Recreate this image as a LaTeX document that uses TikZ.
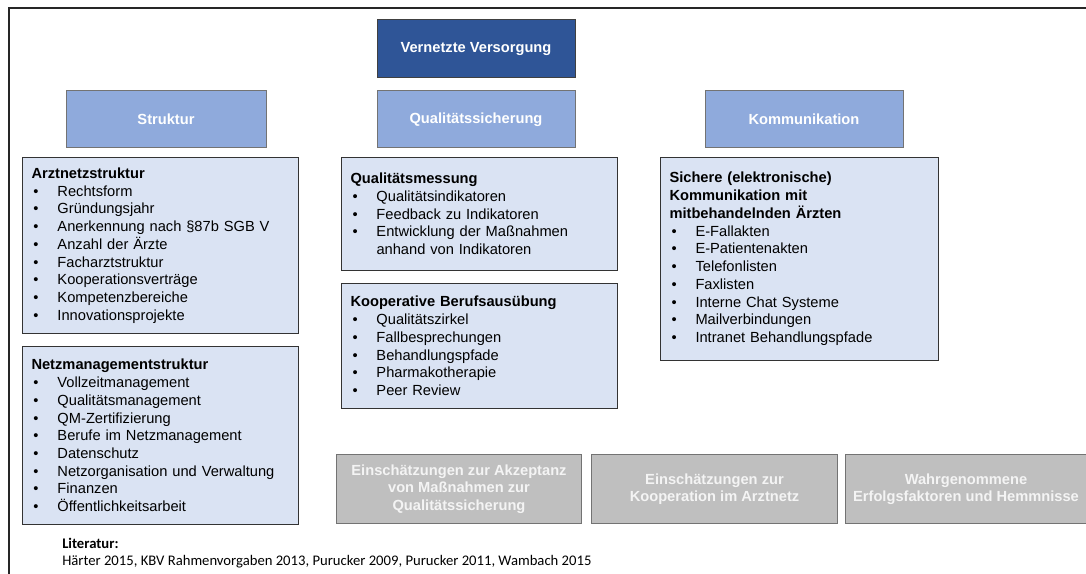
\documentclass[tikz,border=0pt]{standalone}
\usepackage{fontspec}
\setmainfont{Liberation Sans}
\newfontfamily\litfont{Carlito}
\usepackage{tikz}
\usetikzlibrary{positioning}

\definecolor{vvblue}{HTML}{2F5597}
\definecolor{headblue}{HTML}{8FAADC}
\definecolor{listblue}{HTML}{DAE3F3}
\definecolor{boxgrey}{HTML}{BFBFBF}
\definecolor{textgrey}{HTML}{F4F4F4}

\newcommand{\itm}[1]{\\\makebox[19.5pt][l]{\hspace{1.5pt}\textbullet}#1}
\newcommand{\cont}[1]{\\\hspace*{19.5pt}#1}

\tikzset{
  topbox/.style={draw=black!75, line width=0.75pt, fill=vvblue, text=white,
    font=\fontsize{11}{13.3}\selectfont\bfseries,
    minimum width=148.5pt, minimum height=43.5pt},
  headbox/.style={draw=black!55, line width=0.75pt, fill=headblue, text=white,
    font=\fontsize{11}{13.3}\selectfont\bfseries, minimum height=42.75pt},
  listbox/.style={draw=black!80, line width=0.75pt, fill=listblue,
    font=\fontsize{11}{13.3}\selectfont, align=left, inner xsep=6.75pt,
    text width=193.5pt, minimum width=207pt, anchor=north west},
  greybox/.style={draw=black!55, line width=0.75pt, fill=boxgrey, text=textgrey,
    font=\fontsize{11}{13.1}\selectfont\bfseries, align=center,
    minimum height=51.75pt, anchor=north west}
}

\begin{document}
\begin{tikzpicture}[x=0.75pt, y=-0.75pt]
\useasboundingbox (0,0) rectangle (1086,574);
% frame, open to the right and below
\draw[line width=1.5pt, black!85] (1100,8) -| (9,590);

% top of the tree
\node[topbox] (vv) at (476,49) {Vernetzte Versorgung};
\node[headbox, minimum width=148.5pt, below=9pt of vv] (qs) {Qualitätssicherung};
\node[headbox, minimum width=150pt, left=82.5pt of qs] (struk) {Struktur};
\node[headbox, minimum width=148.5pt, right=96.75pt of qs] (komm) {Kommunikation};

% left column
\node[listbox, minimum height=132pt] (arzt) at (22,157)
  {\textbf{Arztnetzstruktur}
   \itm{Rechtsform}
   \itm{Gründungsjahr}
   \itm{Anerkennung nach §87b SGB V}
   \itm{Anzahl der Ärzte}
   \itm{Facharztstruktur}
   \itm{Kooperationsverträge}
   \itm{Kompetenzbereiche}
   \itm{Innovationsprojekte}};
\node[listbox, minimum height=133.5pt, below=9pt of arzt.south west, anchor=north west] (netz)
  {\textbf{Netzmanagementstruktur}
   \itm{Vollzeitmanagement}
   \itm{Qualitätsmanagement}
   \itm{QM-Zertifizierung}
   \itm{Berufe im Netzmanagement}
   \itm{Datenschutz}
   \itm{Netzorganisation und Verwaltung}
   \itm{Finanzen}
   \itm{Öffentlichkeitsarbeit}};

% middle column
\node[listbox, minimum height=84.75pt] (qm) at (341,157)
  {\textbf{Qualitätsmessung}
   \itm{Qualitätsindikatoren}
   \itm{Feedback zu Indikatoren}
   \itm{Entwicklung der Maßnahmen}
   \cont{anhand von Indikatoren}};
\node[listbox, minimum height=93.75pt, below=9pt of qm.south west, anchor=north west] (koop)
  {\textbf{Kooperative Berufsausübung}
   \itm{Qualitätszirkel}
   \itm{Fallbesprechungen}
   \itm{Behandlungspfade}
   \itm{Pharmakotherapie}
   \itm{Peer Review}};

% right column
\node[listbox, text width=195pt, minimum width=208.5pt, minimum height=152.25pt] (sicher) at (660,157)
  {\textbf{Sichere (elektronische)}\\
   \textbf{Kommunikation mit}\\
   \textbf{mitbehandelnden Ärzten}
   \itm{E-Fallakten}
   \itm{E-Patientenakten}
   \itm{Telefonlisten}
   \itm{Faxlisten}
   \itm{Interne Chat Systeme}
   \itm{Mailverbindungen}
   \itm{Intranet Behandlungspfade}};

% assessments
\node[greybox, minimum width=183.75pt] (akzep) at (336,454)
  {Einschätzungen zur Akzeptanz\\von Maßnahmen zur\\Qualitätssicherung};
\node[greybox, minimum width=184.5pt, right=6.75pt of akzep.north east, anchor=north west] (koopn)
  {Einschätzungen zur\\Kooperation im Arztnetz};
\node[greybox, minimum width=180.75pt, right=5.25pt of koopn.north east, anchor=north west] (erfolg)
  {Wahrgenommene\\Erfolgsfaktoren und Hemmnisse};

% references
\node[font=\litfont\fontsize{11}{12.75}\selectfont, align=left, anchor=north west, inner sep=0pt] (lit) at (62,538)
  {\textbf{Literatur:}\\Härter 2015, KBV Rahmenvorgaben 2013, Purucker 2009, Purucker 2011, Wambach 2015};
\end{tikzpicture}
\end{document}
